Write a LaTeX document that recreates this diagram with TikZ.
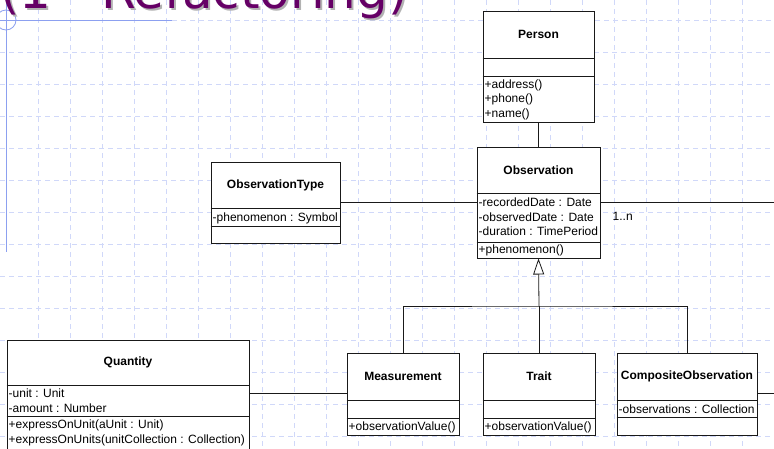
\documentclass[tikz,border=0pt]{standalone}
\usepackage{fontspec}
\setmainfont{Liberation Sans}
\newfontfamily\headingfont{DejaVu Sans}
\usetikzlibrary{arrows.meta}

\definecolor{gridblue}{RGB}{208,216,249}
\definecolor{rulerblue}{RGB}{140,160,240}
\definecolor{titlepurple}{RGB}{102,0,102}
\definecolor{umlink}{RGB}{25,25,25}

\tikzset{
  gridline/.style={draw=gridblue, line width=1pt, dash pattern=on 5pt off 4pt},
  ruler/.style={draw=rulerblue, line width=0.8pt},
  classbox/.style={draw=umlink, fill=white, line width=1pt, rectangle, inner sep=0pt},
  classline/.style={draw=umlink, line width=1pt},
  classname/.style={font=\fontsize{12}{14}\selectfont\bfseries, inner sep=0pt},
  member/.style={font=\fontsize{12}{14}\selectfont, anchor=base west, inner sep=0pt},
  assoc/.style={draw=umlink, line width=0.8pt},
  headline/.style={anchor=base west, inner sep=0pt, font=\headingfont\fontsize{50}{60}\selectfont},
}

% class box: name, left, top, right, bottom, first separator, second separator, title
\newcommand\umlclass[8]{%
  \node[classbox, minimum width={#4-#2}, minimum height={#5-#3}] (#1) at ({(#2+#4)/2},{(#3+#5)/2}) {};
  \draw[classline] (#1.west |- 0,#6) -- (#1.east |- 0,#6);
  \draw[classline] (#1.west |- 0,#7) -- (#1.east |- 0,#7);
  \node[classname] (#1-name) at ({(#2+#4)/2},{(#3+#6)/2}) {#8};
}

\begin{document}
\begin{tikzpicture}[x=1pt,y=-1pt]
\useasboundingbox (0,0) rectangle (774,448);
\clip (0,0) rectangle (774,448);
\fill[white] (0,0) rectangle (774,448);

% slide grid
\foreach \gx in {38,70,...,774} \draw[gridline] (\gx,0) -- (\gx,448);
\foreach \gy in {52,84,...,436} \draw[gridline] (0,\gy) -- (774,\gy);
\draw[gridline] (172,20) -- (774,20);
\draw[ruler] (6,0) -- (6,252);
\draw[ruler] (0,20) -- (172,20);
\draw[ruler] (6,20) circle (10);

% heading
\node[headline, text=black!30] (heading-shadow) at (2,10) {(1 - Refactoring)};
\node[headline, text=titlepurple] (heading) at (0,8) {(1 - Refactoring)};

% classes
\umlclass{person}{483}{11}{594}{122}{58}{76}{Person}
\node[member] (person-m1) at (484.5,88) {+address()};
\node[member] (person-m2) at (484.5,102.5) {+phone()};
\node[member] (person-m3) at (484.5,117) {+name()};

\umlclass{obs}{477}{147}{600}{258}{193}{242}{Observation}
\node[member] (obs-a1) at (478.5,206.5) {-recordedDate : Date};
\node[member] (obs-a2) at (478.5,221) {-observedDate : Date};
\node[member] (obs-a3) at (478.5,235.5) {-duration : TimePeriod};
\node[member] (obs-m1) at (478.5,253) {+phenomenon()};

\umlclass{otype}{211}{162}{340}{243}{208}{226}{ObservationType}
\node[member] (otype-a1) at (212.5,221) {-phenomenon : Symbol};

\umlclass{meas}{347}{353}{459}{435}{400}{418}{Measurement}
\node[member] (meas-m1) at (348.5,430.5) {+observationValue()};

\umlclass{trait}{483}{353}{595}{435}{400}{418}{Trait}
\node[member] (trait-m1) at (484.5,430.5) {+observationValue()};

\umlclass{comp}{617}{353}{757}{435}{400}{417}{CompositeObservation}
\node[member] (comp-a1) at (618.5,413) {-observations : Collection};

\umlclass{quant}{7}{340}{249}{452}{385}{416}{Quantity}
\node[member] (quant-a1) at (8.5,397.5) {-unit : Unit};
\node[member] (quant-a2) at (8.5,412) {-amount : Number};
\node[member] (quant-m1) at (8.5,428.5) {+expressOnUnit(aUnit : Unit)};
\node[member] (quant-m2) at (8.5,443) {+expressOnUnits(unitCollection : Collection)};

% associations
\coordinate (obs-out) at (774,202);
\coordinate (comp-out) at (774,393);
\draw[assoc] (person.south) -- (obs.north);
\draw[assoc] (otype.east |- obs-out) -- (obs.west |- obs-out);
\draw[assoc] (obs.east |- obs-out) -- (obs-out);
\node[member] (mult) at (612.5,220) {1..n};
\draw[assoc] (quant.east |- comp-out) -- (meas.west |- comp-out);
\draw[assoc] (comp.east |- comp-out) -- (comp-out);

% generalization
\coordinate (genjoin) at (539,306);
\draw[assoc] (meas.north) |- (genjoin) -| (comp.north);
\draw[assoc] (trait.north) -- (genjoin);
\draw[assoc, -{Triangle[length=16pt, width=11pt, fill=white]}] (genjoin) -- (obs.south);
\end{tikzpicture}
\end{document}
